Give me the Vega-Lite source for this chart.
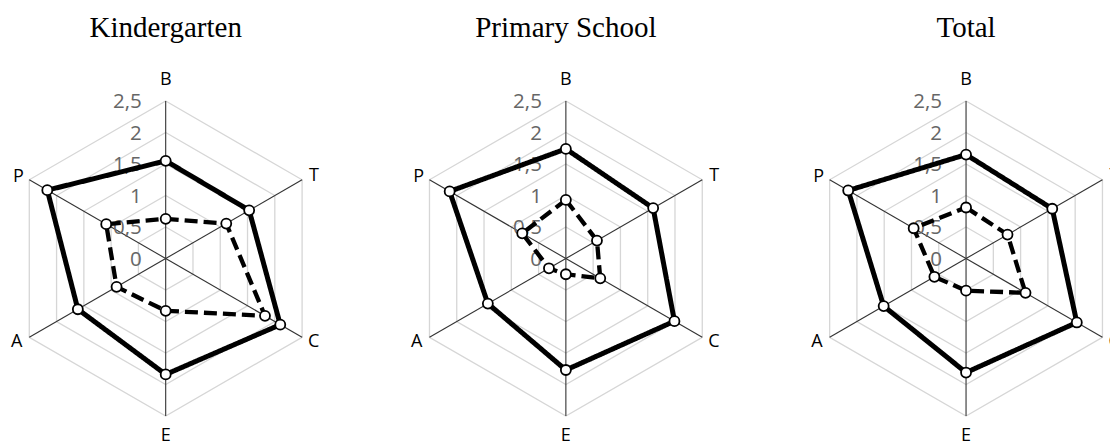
{
  "$schema": "https://vega.github.io/schema/vega-lite/v6.json",
  "width": 1110,
  "height": 446,
  "padding": 0,
  "autosize": {"type": "fit", "contains": "padding"},
  "config": {
    "view": {"stroke": null},
    "locale": {"number": {"decimal": ",", "thousands": ".", "grouping": [3], "currency": ["", " €"]}}
  },
  "datasets": {
    "scores": [
      {"school": "Kindergarten", "series": "Series 1", "dim": "B", "value": 1.55},
      {"school": "Kindergarten", "series": "Series 1", "dim": "T", "value": 1.53},
      {"school": "Kindergarten", "series": "Series 1", "dim": "C", "value": 2.10},
      {"school": "Kindergarten", "series": "Series 1", "dim": "E", "value": 1.84},
      {"school": "Kindergarten", "series": "Series 1", "dim": "A", "value": 1.61},
      {"school": "Kindergarten", "series": "Series 1", "dim": "P", "value": 2.17},
      {"school": "Kindergarten", "series": "Series 2", "dim": "B", "value": 0.63},
      {"school": "Kindergarten", "series": "Series 2", "dim": "T", "value": 1.11},
      {"school": "Kindergarten", "series": "Series 2", "dim": "C", "value": 1.82},
      {"school": "Kindergarten", "series": "Series 2", "dim": "E", "value": 0.83},
      {"school": "Kindergarten", "series": "Series 2", "dim": "A", "value": 0.90},
      {"school": "Kindergarten", "series": "Series 2", "dim": "P", "value": 1.09},
      {"school": "Primary School", "series": "Series 1", "dim": "B", "value": 1.74},
      {"school": "Primary School", "series": "Series 1", "dim": "T", "value": 1.60},
      {"school": "Primary School", "series": "Series 1", "dim": "C", "value": 1.99},
      {"school": "Primary School", "series": "Series 1", "dim": "E", "value": 1.77},
      {"school": "Primary School", "series": "Series 1", "dim": "A", "value": 1.43},
      {"school": "Primary School", "series": "Series 1", "dim": "P", "value": 2.13},
      {"school": "Primary School", "series": "Series 2", "dim": "B", "value": 0.93},
      {"school": "Primary School", "series": "Series 2", "dim": "T", "value": 0.57},
      {"school": "Primary School", "series": "Series 2", "dim": "C", "value": 0.63},
      {"school": "Primary School", "series": "Series 2", "dim": "E", "value": 0.25},
      {"school": "Primary School", "series": "Series 2", "dim": "A", "value": 0.31},
      {"school": "Primary School", "series": "Series 2", "dim": "P", "value": 0.80},
      {"school": "Total", "series": "Series 1", "dim": "B", "value": 1.65},
      {"school": "Total", "series": "Series 1", "dim": "T", "value": 1.58},
      {"school": "Total", "series": "Series 1", "dim": "C", "value": 2.03},
      {"school": "Total", "series": "Series 1", "dim": "E", "value": 1.81},
      {"school": "Total", "series": "Series 1", "dim": "A", "value": 1.51},
      {"school": "Total", "series": "Series 1", "dim": "P", "value": 2.16},
      {"school": "Total", "series": "Series 2", "dim": "B", "value": 0.81},
      {"school": "Total", "series": "Series 2", "dim": "T", "value": 0.76},
      {"school": "Total", "series": "Series 2", "dim": "C", "value": 1.09},
      {"school": "Total", "series": "Series 2", "dim": "E", "value": 0.51},
      {"school": "Total", "series": "Series 2", "dim": "A", "value": 0.58},
      {"school": "Total", "series": "Series 2", "dim": "P", "value": 0.96}
    ],
    "frame": [
      {"school": "Kindergarten", "dim": ["B", "T", "C", "E", "A", "P"], "level": [0, 0.5, 1, 1.5, 2, 2.5]},
      {"school": "Primary School", "dim": ["B", "T", "C", "E", "A", "P"], "level": [0, 0.5, 1, 1.5, 2, 2.5]},
      {"school": "Total", "dim": ["B", "T", "C", "E", "A", "P"], "level": [0, 0.5, 1, 1.5, 2, 2.5]}
    ]
  },
  "encoding": {
    "x": {"field": "x", "type": "quantitative", "axis": null, "scale": {"domain": [0, 17.619], "nice": false, "zero": false}},
    "y": {"field": "y", "type": "quantitative", "axis": null, "scale": {"domain": [0, 7.0794], "nice": false, "zero": false}}
  },
  "layer": [
    {
      "data": {"name": "frame"},
      "transform": [
        {"flatten": ["dim"]}, {"flatten": ["level"]},
        {"filter": "datum.level > 0"},
        {"calculate": "datum.level", "as": "value"},
        {"calculate": "indexof(['B','T','C','E','A','P'], datum.dim)", "as": "k"},
        {"calculate": "indexof(['Kindergarten','Primary School','Total'], datum.school)", "as": "p"},
        {"calculate": "2.630 + 6.352*datum.p + datum.value*sin(datum.k*PI/3)", "as": "x"},
        {"calculate": "2.976 + datum.value*cos(datum.k*PI/3)", "as": "y"}
      ],
      "mark": {"type": "line", "interpolate": "linear-closed", "stroke": "#d6d6d6", "strokeWidth": 1.3, "clip": true},
      "encoding": {
        "detail": [{"field": "school"}, {"field": "level"}],
        "order": {"field": "k", "type": "quantitative"}
      }
    },
    {
      "data": {"name": "frame"},
      "transform": [
        {"flatten": ["dim"]}, {"flatten": ["level"]},
        {"filter": "datum.level == 2.5"},
        {"calculate": "datum.level", "as": "value"},
        {"calculate": "indexof(['B','T','C','E','A','P'], datum.dim)", "as": "k"},
        {"calculate": "indexof(['Kindergarten','Primary School','Total'], datum.school)", "as": "p"},
        {"calculate": "2.630 + 6.352*datum.p", "as": "cx"},
        {"calculate": "2.976", "as": "cy"},
        {"calculate": "2.630 + 6.352*datum.p + datum.value*sin(datum.k*PI/3)", "as": "x"},
        {"calculate": "2.976 + datum.value*cos(datum.k*PI/3)", "as": "y"}
      ],
      "mark": {"type": "rule", "stroke": "#333333", "strokeWidth": 1.1, "clip": true},
      "encoding": {
        "x": {"field": "cx", "type": "quantitative"},
        "y": {"field": "cy", "type": "quantitative"},
        "x2": {"field": "x"},
        "y2": {"field": "y"}
      }
    },
    {
      "data": {"name": "frame"},
      "transform": [
        {"flatten": ["dim"]}, {"flatten": ["level"]},
        {"filter": "datum.dim == 'B'"},
        {"calculate": "datum.level", "as": "value"},
        {"calculate": "indexof(['Kindergarten','Primary School','Total'], datum.school)", "as": "p"},
        {"calculate": "2.630 + 6.352*datum.p", "as": "x"},
        {"calculate": "2.976 + datum.value", "as": "y"}
      ],
      "mark": {"type": "text", "align": "right", "baseline": "middle", "dx": -24, "dy": 1, "font": "Open Sans", "fontSize": 20.5, "color": "#666666", "clip": true},
      "encoding": {"text": {"field": "level", "type": "quantitative", "format": ".1~f"}}
    },
    {
      "data": {"name": "scores"},
      "transform": [
        {"calculate": "indexof(['B','T','C','E','A','P'], datum.dim)", "as": "k"},
        {"calculate": "indexof(['Kindergarten','Primary School','Total'], datum.school)", "as": "p"},
        {"calculate": "2.630 + 6.352*datum.p + datum.value*sin(datum.k*PI/3)", "as": "x"},
        {"calculate": "2.976 + datum.value*cos(datum.k*PI/3)", "as": "y"}
      ],
      "mark": {"type": "line", "interpolate": "linear-closed", "stroke": "#000000", "clip": true},
      "encoding": {
        "detail": [{"field": "school"}, {"field": "series"}],
        "order": {"field": "k", "type": "quantitative"},
        "strokeDash": {"field": "series", "type": "nominal", "legend": null, "scale": {"domain": ["Series 1", "Series 2"], "range": [[1, 0], [13, 6]]}},
        "strokeWidth": {"field": "series", "type": "nominal", "legend": null, "scale": {"domain": ["Series 1", "Series 2"], "range": [5, 4.3]}}
      }
    },
    {
      "data": {"name": "scores"},
      "transform": [
        {"calculate": "indexof(['B','T','C','E','A','P'], datum.dim)", "as": "k"},
        {"calculate": "indexof(['Kindergarten','Primary School','Total'], datum.school)", "as": "p"},
        {"calculate": "2.630 + 6.352*datum.p + datum.value*sin(datum.k*PI/3)", "as": "x"},
        {"calculate": "2.976 + datum.value*cos(datum.k*PI/3)", "as": "y"}
      ],
      "mark": {"type": "point", "shape": "circle", "filled": true, "fill": "#ffffff", "stroke": "#000000", "strokeWidth": 1.8, "size": 100, "opacity": 1, "clip": true}
    },
    {
      "data": {"name": "frame"},
      "transform": [
        {"flatten": ["dim"]}, {"flatten": ["level"]},
        {"filter": "datum.level == 2.5 && datum.dim == 'B'"},
        {"calculate": "indexof(['Kindergarten','Primary School','Total'], datum.school)", "as": "p"},
        {"calculate": "2.630 + 6.352*datum.p", "as": "x"},
        {"calculate": "2.976 + datum.level", "as": "y"}
      ],
      "mark": {"type": "text", "align": "center", "baseline": "middle", "dy": -21, "font": "Open Sans", "fontSize": 18, "color": "#000000", "clip": true},
      "encoding": {"text": {"field": "dim"}}
    },
    {
      "data": {"name": "frame"},
      "transform": [
        {"flatten": ["dim"]}, {"flatten": ["level"]},
        {"filter": "datum.level == 2.5 && datum.dim == 'E'"},
        {"calculate": "indexof(['Kindergarten','Primary School','Total'], datum.school)", "as": "p"},
        {"calculate": "2.630 + 6.352*datum.p", "as": "x"},
        {"calculate": "2.976 - datum.level", "as": "y"}
      ],
      "mark": {"type": "text", "align": "center", "baseline": "middle", "dy": 20, "font": "Open Sans", "fontSize": 18, "color": "#000000", "clip": true},
      "encoding": {"text": {"field": "dim"}}
    },
    {
      "data": {"name": "frame"},
      "transform": [
        {"flatten": ["dim"]}, {"flatten": ["level"]},
        {"filter": "datum.level == 2.5 && datum.dim == 'T'"},
        {"calculate": "indexof(['Kindergarten','Primary School','Total'], datum.school)", "as": "p"},
        {"calculate": "2.630 + 6.352*datum.p + datum.level*sin(PI/3)", "as": "x"},
        {"calculate": "2.976 + datum.level*cos(PI/3)", "as": "y"}
      ],
      "mark": {"type": "text", "align": "left", "baseline": "middle", "dx": 7, "dy": -3.5, "font": "Open Sans", "fontSize": 18, "color": "#000000", "clip": true},
      "encoding": {"text": {"field": "dim"}}
    },
    {
      "data": {"name": "frame"},
      "transform": [
        {"flatten": ["dim"]}, {"flatten": ["level"]},
        {"filter": "datum.level == 2.5 && datum.dim == 'C'"},
        {"calculate": "indexof(['Kindergarten','Primary School','Total'], datum.school)", "as": "p"},
        {"calculate": "2.630 + 6.352*datum.p + datum.level*sin(2*PI/3)", "as": "x"},
        {"calculate": "2.976 + datum.level*cos(2*PI/3)", "as": "y"}
      ],
      "mark": {"type": "text", "align": "left", "baseline": "middle", "dx": 6, "dy": 4.5, "font": "Open Sans", "fontSize": 18, "color": "#000000", "clip": true},
      "encoding": {"text": {"field": "dim"}}
    },
    {
      "data": {"name": "frame"},
      "transform": [
        {"flatten": ["dim"]}, {"flatten": ["level"]},
        {"filter": "datum.level == 2.5 && datum.dim == 'A'"},
        {"calculate": "indexof(['Kindergarten','Primary School','Total'], datum.school)", "as": "p"},
        {"calculate": "2.630 + 6.352*datum.p + datum.level*sin(4*PI/3)", "as": "x"},
        {"calculate": "2.976 + datum.level*cos(4*PI/3)", "as": "y"}
      ],
      "mark": {"type": "text", "align": "right", "baseline": "middle", "dx": -7, "dy": 4.5, "font": "Open Sans", "fontSize": 18, "color": "#000000", "clip": true},
      "encoding": {"text": {"field": "dim"}}
    },
    {
      "data": {"name": "frame"},
      "transform": [
        {"flatten": ["dim"]}, {"flatten": ["level"]},
        {"filter": "datum.level == 2.5 && datum.dim == 'P'"},
        {"calculate": "indexof(['Kindergarten','Primary School','Total'], datum.school)", "as": "p"},
        {"calculate": "2.630 + 6.352*datum.p + datum.level*sin(5*PI/3)", "as": "x"},
        {"calculate": "2.976 + datum.level*cos(5*PI/3)", "as": "y"}
      ],
      "mark": {"type": "text", "align": "right", "baseline": "middle", "dx": -5.5, "dy": -2.5, "font": "Open Sans", "fontSize": 18, "color": "#000000", "clip": true},
      "encoding": {"text": {"field": "dim"}}
    },
    {
      "data": {"name": "frame"},
      "transform": [
        {"flatten": ["dim"]}, {"flatten": ["level"]},
        {"filter": "datum.level == 2.5 && datum.dim == 'B'"},
        {"calculate": "indexof(['Kindergarten','Primary School','Total'], datum.school)", "as": "p"},
        {"calculate": "2.630 + 6.352*datum.p", "as": "x"},
        {"calculate": "2.976 + datum.level", "as": "y"}
      ],
      "mark": {"type": "text", "align": "center", "baseline": "middle", "dy": -73, "font": "Liberation Serif", "fontSize": 29, "color": "#000000", "clip": true},
      "encoding": {"text": {"field": "school"}}
    }
  ]
}
